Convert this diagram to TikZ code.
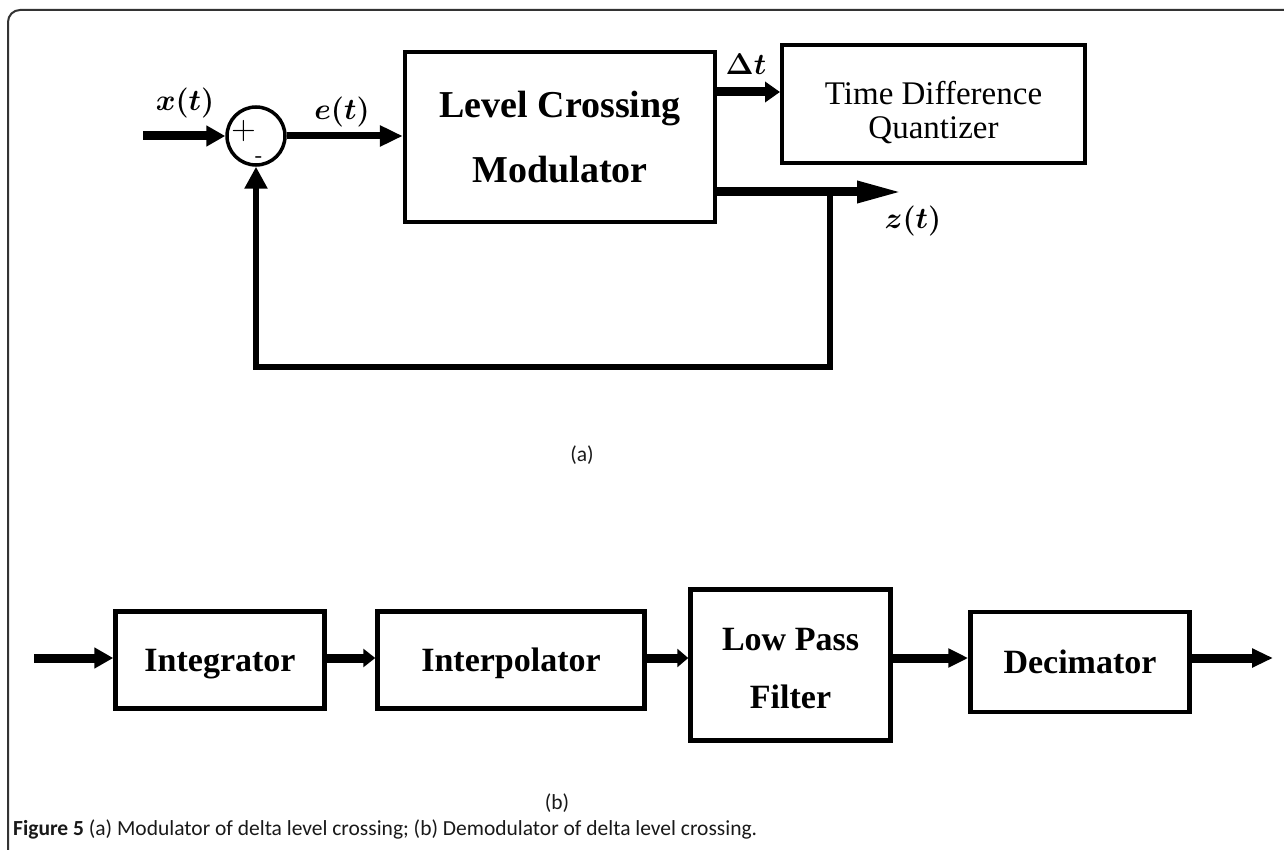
\RequirePackage{fix-cm}
\documentclass[tikz,border=0pt]{standalone}
\usepackage{bm}
\usepackage{fontspec}
\setmainfont{Liberation Serif}
\newfontfamily\capfont{Carlito}
\usetikzlibrary{arrows.meta}
\begin{document}
\begin{tikzpicture}[x=1pt,y=-1pt,
  blk/.style={draw, line width=4.5pt, inner sep=0pt, align=center, font=\bfseries\fontsize{34}{58}\selectfont},
  thickarrow/.style={line width=9pt, -{Triangle[length=19pt,width=20pt]}},
  lab/.style={font=\fontsize{30}{34}\selectfont, inner sep=0pt},
  captxt/.style={font=\capfont\fontsize{21.5}{24}\selectfont, inner sep=0pt, text=black!90}]
\useasboundingbox (0,0) rectangle (1284,850);
% frame
\draw[line width=2pt, draw=black!80, rounded corners=12pt] (8,860) -- (8,10) -- (1295,10);

% ---------- (a) ----------
\node[blk, minimum width=310pt, minimum height=170pt, font=\bfseries\fontsize{38}{65}\selectfont] (lcm) at (560,137) {Level Crossing\\Modulator};
\node[blk, line width=4pt, minimum width=303pt, minimum height=118pt] (tdq) at (933.5,104) {};
\node[inner sep=0pt, align=center, font=\fontsize{33}{34}\selectfont] (tdqtxt) at (933.5,113) {Time Difference\\Quantizer};
\node[circle, draw, line width=3.5pt, minimum size=58pt, inner sep=0pt] (sum) at (256,136) {};
\node[font=\sffamily\fontsize{34}{34}\selectfont, inner sep=0pt, text height=0.55em, text depth=-0.05em] (plus) at (244,137) {+};
\node[font=\sffamily\bfseries\fontsize{22}{22}\selectfont, inner sep=0pt, text height=0.3em, text depth=-0.15em] (minus) at (259,161) {-};

\coordinate (xin) at (143,136);
\draw[thickarrow] (xin) -- (sum.west);
\node[lab] (xl) at (185,103) {$\bm{x(t)}$};

\draw[line width=7pt, -{Triangle[length=23pt,width=20pt]}] (sum.east) -- (lcm.west |- sum.east);
\node[lab] (el) at (342,112) {$\bm{e(t)}$};

\coordinate (dty) at (0,92);
\draw[line width=9pt, -{Triangle[length=15pt,width=20pt]}] (lcm.east |- dty) -- (tdq.west |- dty);
\node[lab] (dtl) at (746,64) {$\bm{\Delta t}$};

\coordinate (zy) at (0,192);
\coordinate (zend) at (903,192);
\draw[line width=9pt, -{Triangle[length=46pt,width=20pt]}] (lcm.east |- zy) -- (zend);
\node[lab] (zl) at (913,221) {$\bm{z(t)}$};

\coordinate (fb0) at (830,192);
\coordinate (fb1) at (830,367);
\coordinate (fb2) at (sum.south |- fb1);
\draw[line width=6pt, -{Triangle[length=22pt,width=22pt]}] (fb0) -- (fb1) -- (fb2) -- (sum.south);

\node[captxt] (capa) at (582,455) {(a)};

% ---------- (b) ----------
\node[blk, minimum width=209pt, minimum height=97pt, text depth=0pt] (int) at (220,660) {Integrator};
\node[blk, minimum width=267pt, minimum height=97pt, text depth=0pt] (itp) at (511,660) {Interpolator};
\node[blk, minimum width=200pt, minimum height=151pt] (lpf) at (790.5,665) {};
\node[inner sep=0pt, align=center, font=\bfseries\fontsize{34}{58}\selectfont] (lpftxt) at (790.5,669) {Low Pass\\Filter};
\node[blk, minimum width=219pt, minimum height=100pt] (dec) at (1080,662) {Decimator};

\coordinate (bin) at (34,658);
\coordinate (bout) at (1273,658);
\draw[thickarrow] (bin) -- (int.west |- bin);
\draw[line width=9pt, -{Triangle[length=12pt,width=18pt]}] (int.east |- bin) -- (itp.west |- bin);
\draw[line width=9pt, -{Triangle[length=11pt,width=18pt]}] (itp.east |- bin) -- (lpf.west |- bin);
\draw[line width=9pt, -{Triangle[length=20pt,width=18pt]}] (lpf.east |- bin) -- (dec.west |- bin);
\draw[line width=9pt, -{Triangle[length=21pt,width=18pt]}] (dec.east |- bin) -- (bout);

\node[captxt] (capb) at (557,803) {(b)};
\node[captxt, anchor=base west] (caption) at (13,835) {\textbf{Figure 5} (a) Modulator of delta level crossing; (b) Demodulator of delta level crossing.};
\end{tikzpicture}
\end{document}
